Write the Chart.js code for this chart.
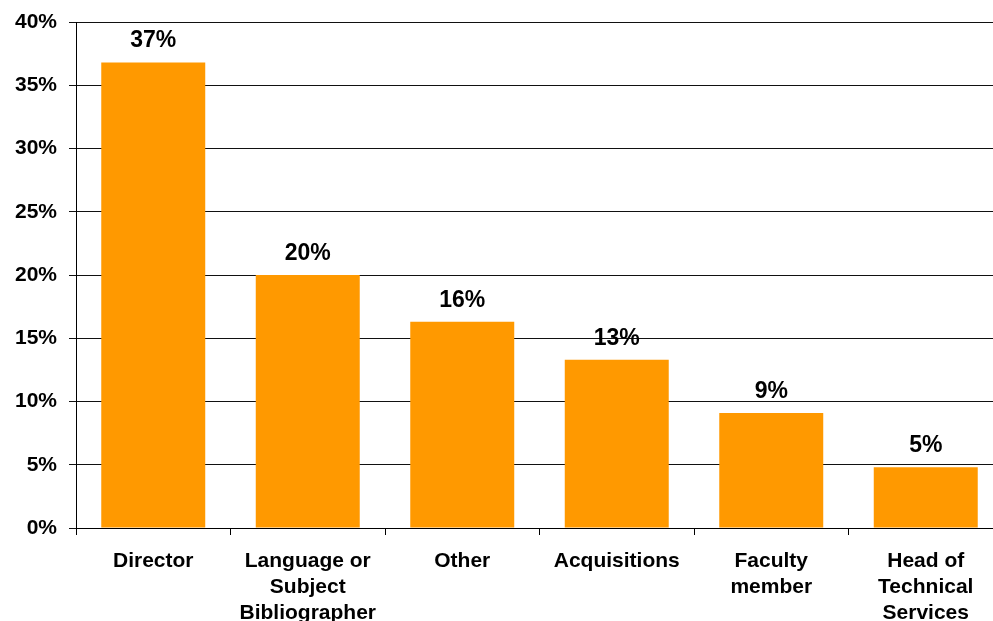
<!DOCTYPE html>
<html>
<head>
<meta charset="utf-8">
<script src="https://cdn.jsdelivr.net/npm/chart.js@4/dist/chart.umd.min.js"></script>
<style>
  html, body { margin: 0; padding: 0; background: #fff; overflow: hidden; }
  #wrap { width: 993px; height: 621px; overflow: hidden; }
  #role-chart { display: block; margin-top: -3px; }
</style>
</head>
<body>
<div id="wrap"><canvas id="role-chart" width="1003" height="653"></canvas></div>
<script>
const roles = [
    'Director',
    ['Language or', 'Subject', 'Bibliographer'],
    'Other',
    'Acquisitions',
    ['Faculty', 'member'],
    ['Head of', 'Technical', 'Services']
];
const shares = [36.8, 20.0, 16.3, 13.3, 9.1, 4.8];
const yTicks = [0, 5, 10, 15, 20, 25, 30, 35, 40];

const fontFamily = '"Liberation Sans", Arial, Helvetica, sans-serif';
const tickFont = { family: fontFamily, size: 21, weight: 'bold', lineHeight: 1.24 };

// percentage printed above each bar
const barLabels = {
    id: 'barLabels',
    afterDatasetsDraw(chart) {
        const ctx = chart.ctx;
        const meta = chart.getDatasetMeta(0);
        ctx.save();
        ctx.font = 'bold 23px ' + fontFamily;
        ctx.fillStyle = '#000';
        ctx.textAlign = 'center';
        ctx.textBaseline = 'alphabetic';
        meta.data.forEach((bar, i) => {
            ctx.fillText(Math.round(shares[i]) + '%', bar.x, bar.y - 15);
        });
        ctx.restore();
    }
};

const ctx = document.getElementById('role-chart').getContext('2d');
const roleChart = new Chart(ctx, {
    type: 'bar',
    data: {
        labels: roles,
        datasets: [{
            data: shares,
            backgroundColor: '#FF9900',
            borderWidth: 0,
            barPercentage: 0.673,
            categoryPercentage: 1.0
        }]
    },
    options: {
        responsive: false,
        animation: false,
        layout: { padding: { top: 19, left: 0, right: 0, bottom: 0 } },
        plugins: {
            legend: { display: false },
            tooltip: { enabled: false }
        },
        scales: {
            x: {
                afterFit: (scale) => { scale.height = 122; },
                grid: {
                    offset: true,
                    drawOnChartArea: false,
                    drawTicks: true,
                    tickLength: 7,
                    color: '#000'
                },
                border: { display: true, color: '#000', width: 1 },
                ticks: {
                    color: '#000',
                    font: tickFont,
                    padding: 13,
                    maxRotation: 0,
                    autoSkip: false
                }
            },
            y: {
                min: 0,
                max: 40,
                afterFit: (scale) => { scale.width = 76; },
                afterBuildTicks: (scale) => {
                    scale.ticks = yTicks.map(v => ({ value: v }));
                },
                grid: {
                    color: '#111',
                    lineWidth: 1,
                    tickLength: 7
                },
                border: { display: true, color: '#000', width: 1 },
                ticks: {
                    color: '#000',
                    font: tickFont,
                    padding: 12,
                    callback: (v) => v + '%'
                }
            }
        }
    },
    plugins: [barLabels]
});
</script>
</body>
</html>
